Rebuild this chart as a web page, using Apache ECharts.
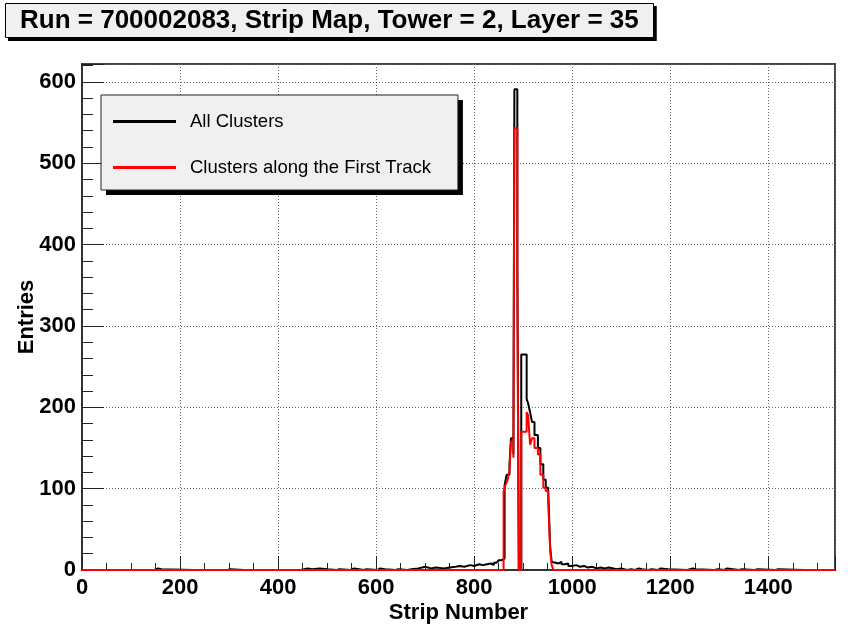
<!DOCTYPE html>
<html>
<head>
<meta charset="utf-8">
<script src="https://cdn.jsdelivr.net/npm/echarts@6/dist/echarts.min.js"></script>
<style>
html,body{margin:0;padding:0;background:#fff;}
#chart{width:848px;height:629px;}
</style>
</head>
<body>
<div id="chart"></div>
<script>
// Histogram step edges (strip where a new value starts) and counts
const allEdges = [0,20,24,53,57,148,155,162,228,232,297,303,330,334,400,404,447,460,470,485,500,520,525,548,555,575,580,603,608,618,640,645,
  664,672,686,694,700,712,722,738,750,762,770,780,792,800,810,818,826,834,840,846,850,856,
  862,866,872,875,880,882,888,891,896,907,910,914,918,923,930,935,941,946,951,955,958,962,966,972,978,985,992,1000,1008,1016,1024,1032,1040,1050,1058,1066,1074,1084,1090,1100,
  1112,1120,1128,1136,1142,1155,1162,1175,1180,1196,1235,1240,1246,1252,1290,1297,1310,1316,1340,1346,1372,1378,1415,1420,1472,1476,1536];
const allCounts = [0,1,0,1,0,2,1,0,1,0,1,0,1,0,1,0,2,1,2,1,0,1,0,2,0,1,0,2,1,0,1,0,
  1,2,3,4,2,3,2,3,4,5,4,6,5,7,6,7,8,6,9,10,12,14,
  104,117,130,162,142,591,387,0,265,210,205,194,182,166,150,130,111,101,97,28,10,9,8,10,7,8,5,6,4,5,3,4,2,3,2,3,2,1,2,0,
  1,0,2,1,0,1,0,2,1,0,1,2,1,0,1,0,2,0,1,0,1,0,1,0,1,0,0];

const trackEdges = [0,860,864,868,872,875,880,882,888,891,896,907,910,914,918,923,930,935,941,946,951,955,958,962,1536];
const trackCounts = [0,96,105,110,122,158,138,543,348,0,170,194,190,154,162,150,142,117,101,97,85,24,6,0,0];

const titleText = 'Run = 700002083, Strip Map, Tower = 2, Layer = 35';
const seriesNames = ['All Clusters', 'Clusters along the First Track'];
const xName = 'Strip Number';
const yName = 'Entries';

const toPairs = (e, c) => e.map((x, i) => [x, c[i]]);
const FONT = '"Liberation Sans", Arial, Helvetica, sans-serif';

// measure text to size the drop-shadow boxes
const mctx = document.createElement('canvas').getContext('2d');
mctx.font = 'normal bold 26px ' + FONT;
const titleW = mctx.measureText(titleText).width + 30;
mctx.font = 'normal normal 18.5px ' + FONT;
const legTextW = Math.max(...seriesNames.map(s => mctx.measureText(s).width));
const legW = 12 + 63 + 5 + 9 + legTextW + 27;

const chart = echarts.init(document.getElementById('chart'), null, {renderer: 'canvas'});
chart.setOption({
  animation: false,
  backgroundColor: '#ffffff',
  title: {
    text: titleText,
    left: 5, top: 3, z: 20,
    padding: [3, 15, 3, 15],
    backgroundColor: '#f0f0f0',
    borderColor: '#000', borderWidth: 1,
    textStyle: {fontFamily: FONT, fontWeight: 'bold', fontSize: 26, lineHeight: 29, color: '#000'}
  },
  legend: {
    orient: 'vertical',
    left: 101, top: 95, z: 20,
    padding: [17, 27, 13, 12],
    icon: 'rect',
    itemWidth: 63, itemHeight: 3, itemGap: 27,
    backgroundColor: '#f0f0f0',
    borderColor: '#222', borderWidth: 1,
    textStyle: {fontFamily: FONT, fontSize: 18.5, color: '#000', padding: [0, 0, 0, 9]},
    data: seriesNames
  },
  graphic: [
    {type: 'rect', z: 15, shape: {x: 8, y: 6, width: titleW, height: 35}, style: {fill: '#000'}},
    {type: 'rect', z: 15, shape: {x: 106, y: 100, width: legW, height: 95}, style: {fill: '#000'}}
  ],
  grid: {
    left: 82, top: 64, right: 13, bottom: 57,
    show: true, borderColor: '#444', borderWidth: 2, backgroundColor: '#fff'
  },
  xAxis: [{
    type: 'value', min: 0, max: 1536, interval: 200, position: 'bottom',
    name: xName, nameLocation: 'middle', nameGap: 32, nameMoveOverlap: false,
    nameTextStyle: {fontFamily: FONT, fontWeight: 'bold', fontSize: 22, color: '#000'},
    axisLine: {show: true, lineStyle: {color: '#333', width: 2}},
    axisTick: {show: true, inside: true, length: 14, lineStyle: {color: '#222', width: 1}},
    axisLabel: {fontFamily: FONT, fontWeight: 'bold', fontSize: 22, color: '#000', margin: 7,
      formatter: v => (v % 200 === 0 ? String(v) : '')},
    splitLine: {show: true, lineStyle: {color: '#666', width: 1, type: [1, 2]}}
  }, {
    type: 'value', min: 0, max: 1536, interval: 50, position: 'bottom',
    axisLine: {show: false}, axisLabel: {show: false}, splitLine: {show: false},
    axisTick: {show: true, inside: true, length: 7, lineStyle: {color: '#222', width: 1}}
  }],
  yAxis: [{
    type: 'value', min: 0, max: 622, interval: 100, position: 'left',
    name: yName, nameLocation: 'middle', nameGap: 44, nameRotate: 90, nameMoveOverlap: false,
    nameTextStyle: {fontFamily: FONT, fontWeight: 'bold', fontSize: 22, color: '#000'},
    axisLine: {show: true, lineStyle: {color: '#333', width: 2}},
    axisTick: {show: true, inside: true, length: 22, lineStyle: {color: '#222', width: 1}},
    axisLabel: {fontFamily: FONT, fontWeight: 'bold', fontSize: 22, color: '#000', margin: 6,
      formatter: v => (v % 100 === 0 ? String(v) : '')},
    splitLine: {show: true, lineStyle: {color: '#666', width: 1, type: [1, 2]}}
  }, {
    type: 'value', min: 0, max: 622, interval: 20, position: 'left',
    axisLine: {show: false}, axisLabel: {show: false}, splitLine: {show: false},
    axisTick: {show: true, inside: true, length: 11, lineStyle: {color: '#222', width: 1}}
  }],
  series: [{
    name: seriesNames[0], type: 'line', step: 'end', symbol: 'none', showSymbol: false,
    xAxisIndex: 0, yAxisIndex: 0,
    lineStyle: {color: '#000', width: 2}, itemStyle: {color: '#000'},
    data: toPairs(allEdges, allCounts), z: 3
  }, {
    name: seriesNames[1], type: 'line', step: 'end', symbol: 'none', showSymbol: false,
    xAxisIndex: 0, yAxisIndex: 0,
    lineStyle: {color: '#ff0000', width: 2}, itemStyle: {color: '#ff0000'},
    data: toPairs(trackEdges, trackCounts), z: 4
  }]
});
</script>
</body>
</html>
